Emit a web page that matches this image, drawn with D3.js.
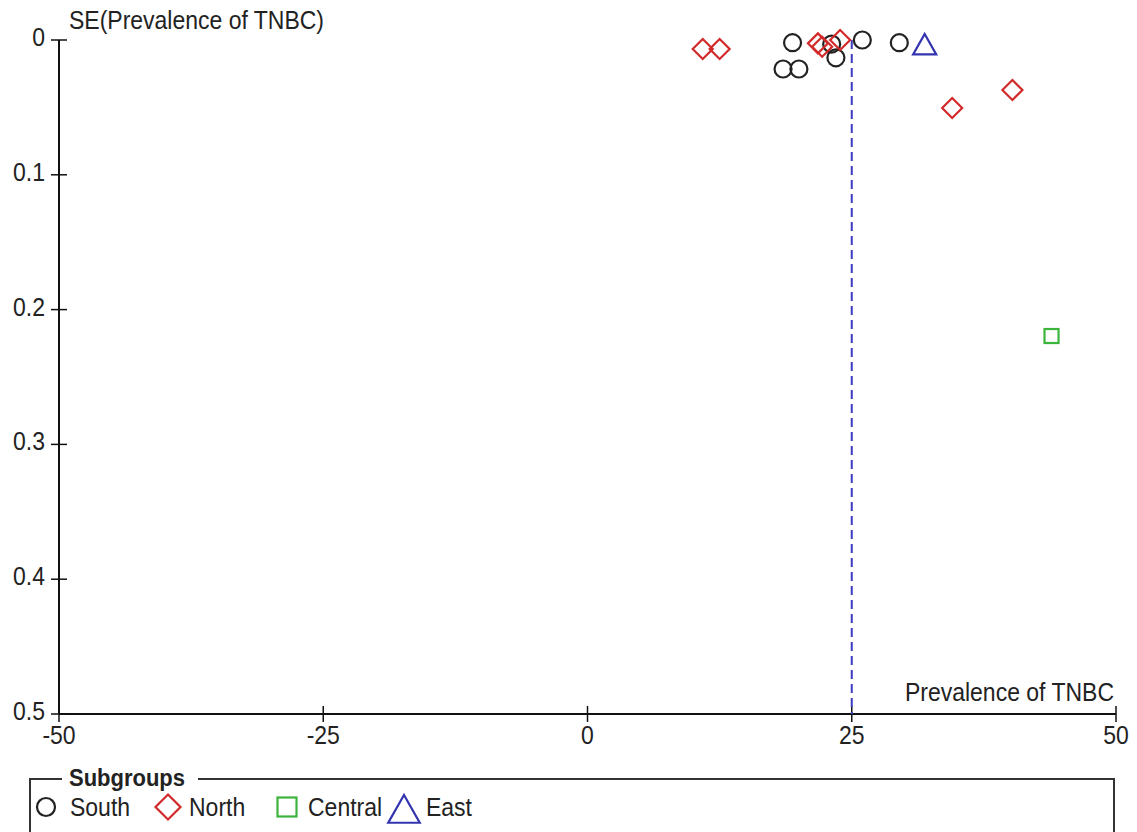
<!DOCTYPE html>
<html><head><meta charset="utf-8">
<script src="https://cdn.jsdelivr.net/npm/d3@7"></script>
<style>body{margin:0;background:#fff}svg{display:block}text{font-family:"Liberation Sans",Arial,sans-serif}</style>
</head><body>
<svg id="c" width="1137" height="832"></svg>
<script>
// Data (prevalence %, SE)
const south = [[19.4,0.002],[18.5,0.0215],[20.0,0.0215],[23.1,0.003],[23.5,0.0132],[26.0,0.0],[29.5,0.002]];
const north = [[10.9,0.0067],[12.5,0.0067],[21.8,0.0025],[22.2,0.005],[23.9,0.0],[34.5,0.0504],[40.2,0.0371]];
const central = [[43.9,0.2196]];
const east = [[31.9,0.0037]];
const xTicks = [-50,-25,0,25,50];
const yTicks = [0,0.1,0.2,0.3,0.4,0.5];
const pooled = 25;

const svg = d3.select("#c");
const x = d3.scaleLinear().domain([-50,50]).range([59,1116]);
const y = d3.scaleLinear().domain([0,0.5]).range([40,714]);
const fs = 23;
const SY = 1.1;
function txt(g,tx,ty,s,anchor,opts={}){
  const t = g.append("text").attr("transform",`translate(${tx},${ty}) scale(1,${SY})`)
    .attr("text-anchor",anchor||"start").attr("font-size",opts.size||fs).attr("fill","#222").text(s);
  if(opts.bold) t.attr("font-weight","bold");
  return t;
}

// y axis
svg.append("line").attr("x1",x(-50)).attr("x2",x(-50)).attr("y1",y(0)).attr("y2",y(0.5)).attr("stroke","#111").attr("stroke-width",2);
// x axis
svg.append("line").attr("x1",x(-50)).attr("x2",x(50)).attr("y1",y(0.5)).attr("y2",y(0.5)).attr("stroke","#111").attr("stroke-width",2);

yTicks.forEach(t=>{
  svg.append("line").attr("x1",x(-50)-8).attr("x2",x(-50)+8).attr("y1",y(t)).attr("y2",y(t)).attr("stroke","#111").attr("stroke-width",1.5);
  txt(svg,x(-50)-14,y(t)+6,t===0?"0":d3.format(".1f")(t),"end");
});
xTicks.forEach(t=>{
  svg.append("line").attr("x1",x(t)).attr("x2",x(t)).attr("y1",y(0.5)-8).attr("y2",y(0.5)+8).attr("stroke","#111").attr("stroke-width",1.5);
  txt(svg,x(t),y(0.5)+30,String(t),"middle");
});

txt(svg,69,29,"SE(Prevalence of TNBC)","start");
txt(svg,1114,701,"Prevalence of TNBC","end");

// pooled dashed line
svg.append("line").attr("x1",x(pooled)).attr("x2",x(pooled)).attr("y1",y(0)).attr("y2",y(0.5)).attr("stroke","#3b3bc4").attr("stroke-width",2).attr("stroke-dasharray","9,5");

const cSouth="#222", cNorth="#d22a2a", cCentral="#3cb43c", cEast="#3434b0";
function circle(g,cx,cy,r,col){g.append("circle").attr("cx",cx).attr("cy",cy).attr("r",r).attr("fill","none").attr("stroke",col).attr("stroke-width",2.2);}
function diamond(g,cx,cy,r,col){g.append("path").attr("d",`M${cx},${cy-r}L${cx+r},${cy}L${cx},${cy+r}L${cx-r},${cy}Z`).attr("fill","none").attr("stroke",col).attr("stroke-width",2.2);}
function square(g,cx,cy,r,col){g.append("rect").attr("x",cx-r).attr("y",cy-r).attr("width",2*r).attr("height",2*r).attr("fill","none").attr("stroke",col).attr("stroke-width",2.2);}
function triangle(g,cx,cy,r,col){g.append("path").attr("d",`M${cx},${cy-r}L${cx+r*1.05},${cy+r*0.85}L${cx-r*1.05},${cy+r*0.85}Z`).attr("fill","none").attr("stroke",col).attr("stroke-width",2.2);}

const g = svg.append("g");
south.forEach(d=>circle(g,x(d[0]),y(d[1]),8.5,cSouth));
north.forEach(d=>diamond(g,x(d[0]),y(d[1]),10,cNorth));
central.forEach(d=>square(g,x(d[0]),y(d[1]),7,cCentral));
east.forEach(d=>triangle(g,x(d[0]),y(d[1]),11,cEast));

// legend
const lg = svg.append("g");
lg.append("path").attr("d","M62,779 L30,779 L30,840").attr("fill","none").attr("stroke","#333").attr("stroke-width",2);
lg.append("path").attr("d","M198,779 L1114,779 L1114,840").attr("fill","none").attr("stroke","#333").attr("stroke-width",2);
txt(lg,69,786,"Subgroups","start",{bold:true,size:22});
const items=[{n:"South",f:circle,c:cSouth,mx:46,tx:70,r:9},{n:"North",f:diamond,c:cNorth,mx:168,tx:189,r:12.5},{n:"Central",f:square,c:cCentral,mx:287,tx:308,r:9.5},{n:"East",f:triangle,c:cEast,mx:404,tx:426,r:15}];
items.forEach(it=>{
  it.f(lg,it.mx,it.f===triangle?810:807,it.r,it.c);
  txt(lg,it.tx,816,it.n,"start");
});
</script>
</body></html>
